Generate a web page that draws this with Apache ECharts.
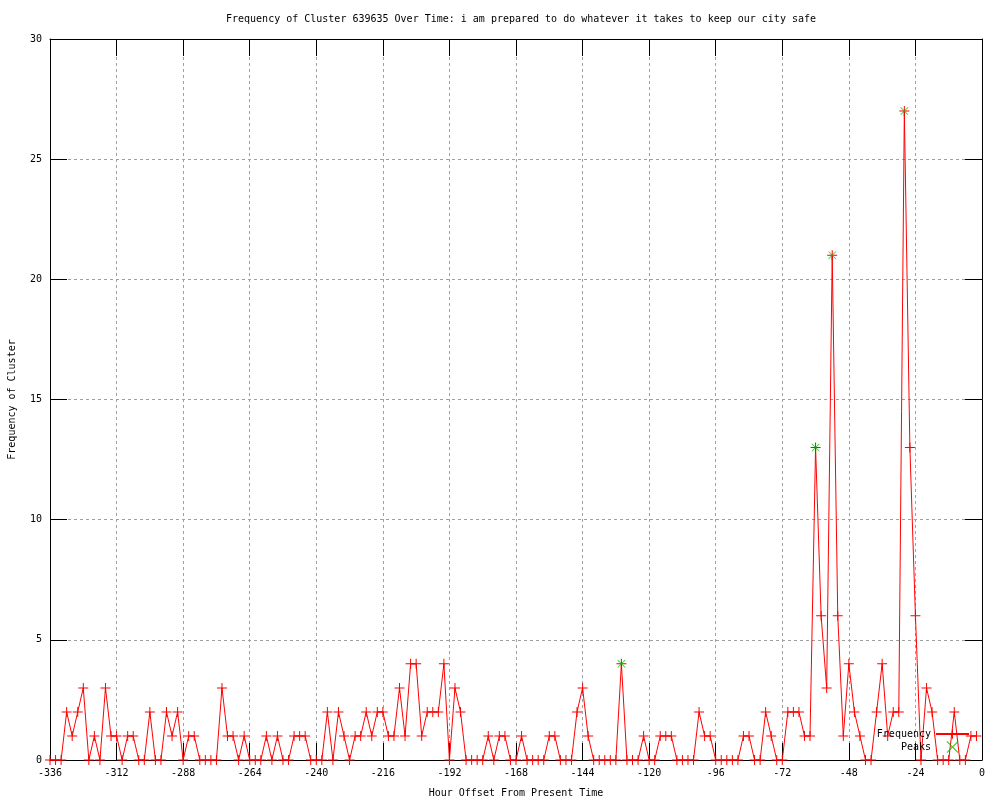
<!DOCTYPE html>
<html>
<head>
<meta charset="utf-8">
<script src="https://cdn.jsdelivr.net/npm/echarts@6/dist/echarts.min.js"></script>
<style>html,body{margin:0;padding:0;background:#fff;}#chart{width:1000px;height:800px;}</style>
</head>
<body>
<div id="chart"></div>
<script>
// Hour offsets (every 2 hours from -336 to -2)
const hours = [];
for (let h = -336; h <= -2; h += 2) hours.push(h);

// Frequency values (one per 2-hour step)
const frequency = [
  0,0,0,2,1,2,3,0,1,0,3,1,1,0,1,1,0,0,2,0,0,2,1,2,
  0,1,1,0,0,0,0,3,1,1,0,1,0,0,0,1,0,1,0,0,1,1,1,0,
  0,0,2,0,2,1,0,1,1,2,1,2,2,1,1,3,1,4,4,1,2,2,2,4,
  0,3,2,0,0,0,0,1,0,1,1,0,0,1,0,0,0,0,1,1,0,0,0,2,
  3,1,0,0,0,0,0,4,0,0,0,1,0,0,1,1,1,0,0,0,0,2,1,1,
  0,0,0,0,0,1,1,0,0,2,1,0,0,2,2,2,1,1,13,6,3,21,6,1,
  4,2,1,0,0,2,4,1,2,2,27,13,6,0,3,2,0,0,0,2,0,0,1,1
];

// Peaks
const peakHours = [-130, -60, -54, -28];
const peakValues = [4, 13, 21, 27];

const xTicks = { min: -336, max: 0, interval: 24 };
const yTicks = { min: 0, max: 30, interval: 5 };

const FONT = '"DejaVu Sans Mono", "Liberation Mono", monospace';
const PLUS = 'path://M4.5,0h1v4.5h4.5v1h-4.5v4.5h-1v-4.5h-4.5v-1h4.5z';
const CROSS = 'path://M0,0.7L0.7,0L5,4.3L9.3,0L10,0.7L5.7,5L10,9.3L9.3,10L5,5.7L0.7,10L0,9.3L4.3,5Z';

const chart = echarts.init(document.getElementById('chart'), null, { renderer: 'canvas' });

const freqData = hours.map((h, i) => [h, frequency[i]]);
const peakData = peakHours.map((h, i) => [h, peakValues[i]]);

const gridLine = { show: true, lineStyle: { color: '#a0a0a0', type: [3, 3], width: 1 } };
const axLine = { show: true, onZero: false, lineStyle: { color: '#000', width: 1 } };
const axTick = { show: true, inside: true, length: 17, lineStyle: { color: '#000' } };

chart.setOption({
  animation: false,
  backgroundColor: '#ffffff',
  title: {
    text: 'Frequency of Cluster 639635 Over Time: i am prepared to do whatever it takes to keep our city safe',
    left: 516, top: 9, textAlign: 'center',
    textStyle: { fontFamily: FONT, fontSize: 10, fontWeight: 'normal', color: '#000' }
  },
  grid: { left: 50, right: 18, top: 39, bottom: 40, containLabel: false, outerBoundsMode: 'none' },
  legend: {
    data: ['Frequency', 'Peaks'],
    orient: 'vertical', right: 30, bottom: 47, align: 'right',
    itemWidth: 33, itemHeight: 12, itemGap: 2, padding: 0,
    textStyle: { fontFamily: FONT, fontSize: 10, color: '#000' }
  },
  xAxis: [
    {
      type: 'value', min: xTicks.min, max: xTicks.max, interval: xTicks.interval,
      position: 'bottom',
      name: 'Hour Offset From Present Time', nameLocation: 'middle', nameGap: 28,
      nameTextStyle: { fontFamily: FONT, fontSize: 10, color: '#000' },
      axisLine: axLine, axisTick: axTick,
      axisLabel: { fontFamily: FONT, fontSize: 10, color: '#000', margin: 8 },
      splitLine: gridLine
    },
    {
      type: 'value', min: xTicks.min, max: xTicks.max, interval: xTicks.interval,
      position: 'top',
      axisLine: axLine, axisTick: axTick,
      axisLabel: { show: false },
      splitLine: { show: false }
    }
  ],
  yAxis: [
    {
      type: 'value', min: yTicks.min, max: yTicks.max, interval: yTicks.interval,
      position: 'left',
      name: 'Frequency of Cluster', nameLocation: 'middle', nameGap: 33,
      nameTextStyle: { fontFamily: FONT, fontSize: 10, color: '#000' },
      axisLine: axLine, axisTick: axTick,
      axisLabel: { fontFamily: FONT, fontSize: 10, color: '#000', margin: 8 },
      splitLine: gridLine
    },
    {
      type: 'value', min: yTicks.min, max: yTicks.max, interval: yTicks.interval,
      position: 'right',
      axisLine: axLine, axisTick: axTick,
      axisLabel: { show: false },
      splitLine: { show: false }
    }
  ],
  series: [
    {
      name: 'Frequency', type: 'line', data: freqData,
      xAxisIndex: 0, yAxisIndex: 0,
      showAllSymbol: true, symbol: PLUS, symbolSize: 10,
      lineStyle: { color: '#ff0000', width: 1 },
      itemStyle: { color: '#ff0000' },
      z: 3
    },
    {
      name: 'Peaks', type: 'scatter', data: peakData,
      xAxisIndex: 0, yAxisIndex: 0,
      symbol: CROSS, symbolSize: 8,
      itemStyle: { color: '#00c000' },
      z: 4
    }
  ]
});
</script>
</body>
</html>
